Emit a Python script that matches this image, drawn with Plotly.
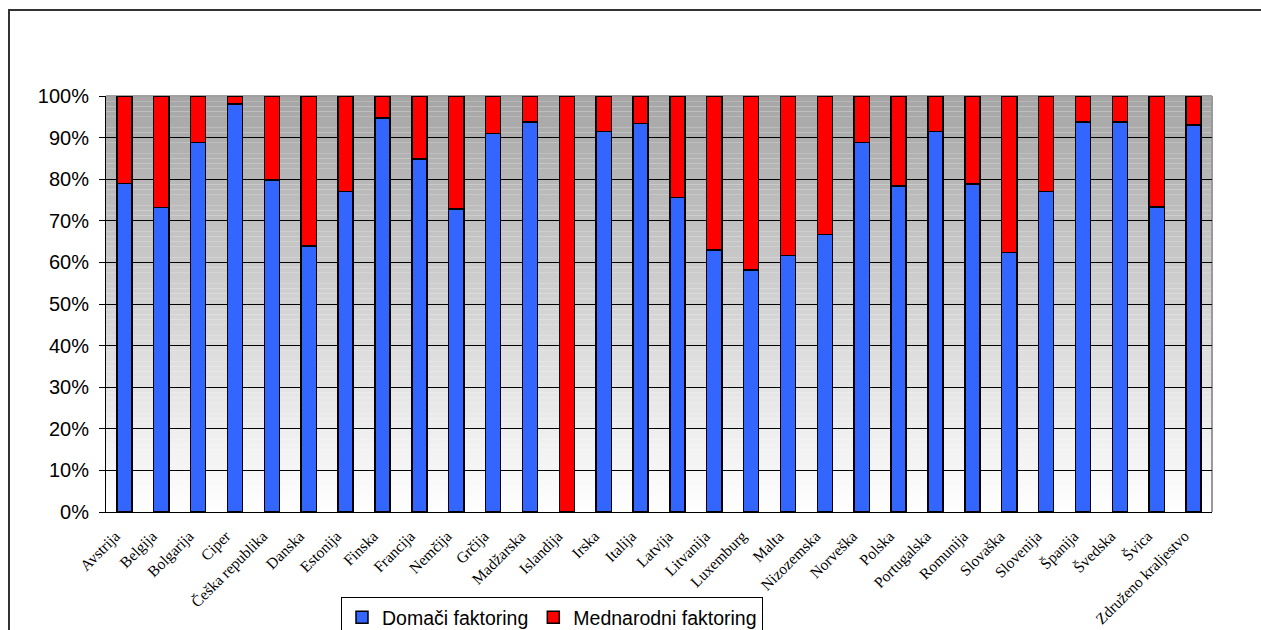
import plotly.graph_objects as go

countries = ["Avstrija", "Belgija", "Bolgarija", "Ciper", "Češka republika", "Danska",
             "Estonija", "Finska", "Francija", "Nemčija", "Grčija", "Madžarska",
             "Islandija", "Irska", "Italija", "Latvija", "Litvanija", "Luxemburg",
             "Malta", "Nizozemska", "Norveška", "Polska", "Portugalska", "Romunija",
             "Slovaška", "Slovenija", "Španija", "Švedska", "Švica", "Združeno kraljestvo"]

domaci = [79, 73.2, 88.8, 98.1, 79.8, 63.9, 77.0, 94.7, 84.9, 72.8, 91.0, 93.8,
          0, 91.5, 93.4, 75.6, 63.0, 58.2, 61.6, 66.7, 88.8, 78.4, 91.5, 78.8,
          62.4, 77.0, 93.8, 93.8, 73.3, 93.0]
mednarodni = [round(100 - v, 1) for v in domaci]

y_ticks = list(range(0, 101, 10))
y_tick_text = [f"{t}%" for t in y_ticks]

W, H = 1261, 630
L, R, T, B = 106, 1212, 96, 512

def px_x(p):
    return (p - L) / (R - L)

def px_y(p):
    return (B - p) / (B - T)

fig = go.Figure()
fig.add_trace(go.Bar(name="Domači faktoring", x=countries, y=domaci,
                     marker=dict(color="#3366FF", line=dict(color="black", width=1.5))))
fig.add_trace(go.Bar(name="Mednarodni faktoring", x=countries, y=mednarodni,
                     marker=dict(color="#FF0000", line=dict(color="black", width=1.5))))

shapes = []
# gradient background of the plot area
n = 80
for i in range(n):
    y0 = 100 * i / n
    y1 = 100 * (i + 1) / n
    frac = (y0 + y1) / 200.0
    g = int(round(255 - (255 - 165) * frac))
    shapes.append(dict(type="rect", xref="paper", yref="y", x0=0, x1=1, y0=y0, y1=y1,
                       fillcolor=f"rgb({g},{g},{g})", line=dict(width=0), layer="below"))
# top and right plot border (gray)
shapes.append(dict(type="line", xref="paper", yref="paper", x0=0, x1=1, y0=1, y1=1,
                   line=dict(color="#A0A0A0", width=2), layer="below"))
shapes.append(dict(type="line", xref="paper", yref="paper", x0=1, x1=1, y0=0, y1=1,
                   line=dict(color="#999999", width=2), layer="below"))
# outer frame: left and top edges as thin filled strips
shapes.append(dict(type="rect", xref="paper", yref="paper",
                   x0=px_x(8), x1=px_x(10), y0=px_y(9), y1=px_y(640),
                   line=dict(width=0), fillcolor="#333333"))
shapes.append(dict(type="rect", xref="paper", yref="paper",
                   x0=px_x(8), x1=px_x(1261), y0=px_y(9), y1=px_y(11),
                   line=dict(width=0), fillcolor="#333333"))

fig.update_layout(
    width=W, height=H,
    margin=dict(l=L, r=W - R, t=T, b=H - B, pad=0, autoexpand=False),
    barmode="stack", bargap=0.59,
    paper_bgcolor="white", plot_bgcolor="white",
    shapes=shapes,
    showlegend=True,
    legend=dict(orientation="h", x=px_x(341), y=px_y(597), xanchor="left", yanchor="top",
                bordercolor="black", borderwidth=1, bgcolor="white",
                font=dict(family="Liberation Sans, Arial", size=19.5, color="black"),
                traceorder="normal"),
    xaxis=dict(range=[-0.5, len(countries) - 0.5], tickangle=-45,
               tickfont=dict(family="Liberation Serif, Times New Roman", size=15.5, color="black"),
               showline=True, linecolor="black", linewidth=1, showgrid=False,
               ticks="", ticklabelstandoff=8, ticklabelshift=-9,
               fixedrange=True, automargin=False),
    yaxis=dict(range=[0, 100], tickvals=y_ticks, ticktext=y_tick_text,
               tickfont=dict(family="Liberation Sans, Arial", size=20, color="black"),
               showline=True, linecolor="black", linewidth=1,
               showgrid=True, gridcolor="black", gridwidth=1,
               ticks="outside", ticklen=6, tickcolor="black", ticklabelstandoff=6,
               zeroline=False, automargin=False),
)

fig.write_html("out.html", config={"displayModeBar": False})
